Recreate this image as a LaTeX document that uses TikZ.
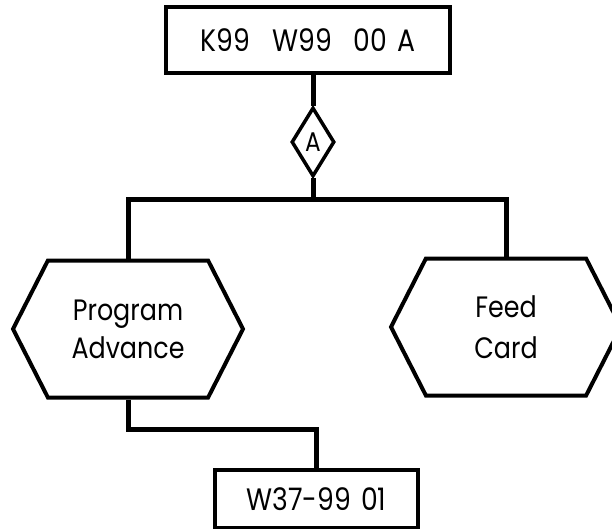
\documentclass[tikz,border=0pt]{standalone}
\usepackage{fontspec}
\setmainfont[FakeStretch=0.86]{Poppins}
\usetikzlibrary{shapes.geometric,shapes.symbols}
\begin{document}
\begin{tikzpicture}[x=1pt,y=-1pt,
  every node/.style={font=\fontsize{29.5}{38}\selectfont, align=center, inner sep=0pt},
  card/.style={draw, line width=3.5pt, rectangle, font=\fontsize{31}{38}\selectfont},
  hexbox/.style={draw, line width=4pt, shape=signal, signal to=east and west,
    signal pointer angle=126, minimum width=230pt, minimum height=137pt},
  decide/.style={draw, line width=3.5pt, diamond, aspect=0.62,
    minimum width=43pt, minimum height=69pt, font=\fontsize{27}{27}\selectfont},
  flow/.style={line width=5pt, line join=miter}]
  \useasboundingbox (0,0) rectangle (612,529);
  \clip (0,0) rectangle (612,529);

  % instruction cards
  \node[card, minimum width=284pt, minimum height=66pt] (top) at (308,40)
    {\raisebox{-6pt}{K99\hspace{22pt}W99\hspace{22pt}00\hspace{10pt}A}};
  \node[card, minimum width=203pt, minimum height=58pt] (bot) at (316.5,499)
    {\raisebox{-5pt}{W37-99\hspace{10pt}01}};

  % selector
  \node[decide] (sel) at (313,142) {A};

  % operation blocks
  \node[hexbox] (prog) at (128,329) {Program\\Advance};
  \node[hexbox] (feed) at (506,327) {\raisebox{3pt}{Feed}\\Card};

  % junction points
  \coordinate (split) at (313,200);

  % connectors
  \draw[flow] (sel.north) -- (sel.north |- top.south);
  \draw[flow] (sel.south) -- (split);
  \draw[flow] (prog.north) |- (split) -| (feed.north);
  \draw[flow] (prog.south) -- ++(0,30) -| (bot.north);
\end{tikzpicture}
\end{document}
